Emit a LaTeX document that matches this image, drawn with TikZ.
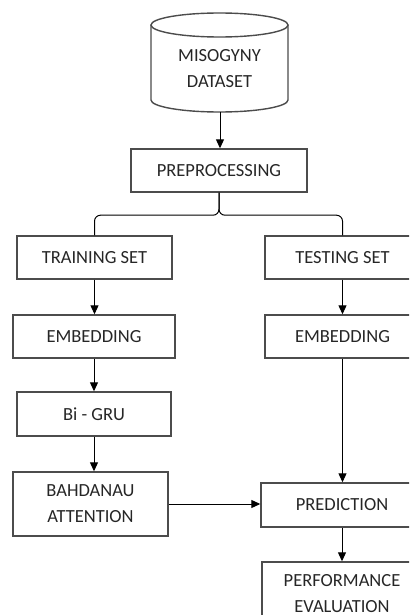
\documentclass[tikz,border=0pt]{standalone}
\usepackage{fontspec}
\setmainfont{Carlito}
\usetikzlibrary{arrows.meta,positioning,calc}

\begin{document}
\begin{tikzpicture}[x=0.5pt,y=-0.5pt,
    label font/.style={font=\fontsize{9.25}{13}\selectfont, text=black!85},
    stage/.style={draw=black!70, line width=0.7pt, minimum height=21.5pt, minimum width=77.5pt,
        inner sep=0pt, align=center, label font},
    flow/.style={-{Triangle[length=4.5pt,width=4pt]}, line width=0.5pt},
    fork/.style={line width=0.5pt, rounded corners=3pt}]
\useasboundingbox (0,0) rectangle (409,615);
\clip (0,0) rectangle (409,615);
% dataset drum
\draw[draw=black!70, line width=0.7pt] (151,25) -- (151,100)
    arc[start angle=180, end angle=0, x radius=68.5, y radius=12] -- (288,25);
\draw[draw=black!70, line width=0.7pt] (219.5,25) ellipse [x radius=68.5, y radius=12];
\node[align=center, label font] (data) at (219.5,69) {MISOGYNY\\DATASET};
\coordinate (dbase) at (220,112);
% stages
\node[stage, minimum width=88pt] (prep) at (219,170.5) {PREPROCESSING};
\node[stage] (train) at (94.5,257.5) {TRAINING SET};
\node[stage] (test) at (342.5,257.5) {TESTING SET};
\node[stage, minimum width=81pt] (embL) at (94,336.5) {EMBEDDING};
\node[stage] (embR) at (342.5,336.5) {EMBEDDING};
\node[stage, minimum width=77pt, minimum height=22pt] (gru) at (94,414) {Bi - GRU};
\node[stage, minimum height=32pt] (attn) at (90.5,504) {BAHDANAU\\ATTENTION};
\node[stage, minimum width=81pt, minimum height=22pt] (pred) at (342,505) {PREDICTION};
\node[stage, minimum width=80pt, minimum height=32pt] (perf) at (342,594) {PERFORMANCE\\EVALUATION};
% split
\coordinate (split) at ($(prep.south)+(0,22.5)$);
\draw[fork] (train.north) |- (split) -- (prep.south);
\draw[fork] (test.north) |- (split) -- (prep.south);
% arrows
\draw[flow] (dbase) -- (dbase |- prep.north);
\draw[flow] (train.south) -- (train.south |- embL.north);
\draw[flow] (embL.south) -- (embL.south |- gru.north);
\draw[flow] (gru.south) -- (gru.south |- attn.north);
\draw[flow] (test.south) -- (test.south |- embR.north);
\draw[flow] (embR.south) -- (embR.south |- pred.north);
\draw[flow] (attn.east) -- (attn.east -| pred.west);
\draw[flow] (pred.south) -- (pred.south |- perf.north);
\end{tikzpicture}
\end{document}
